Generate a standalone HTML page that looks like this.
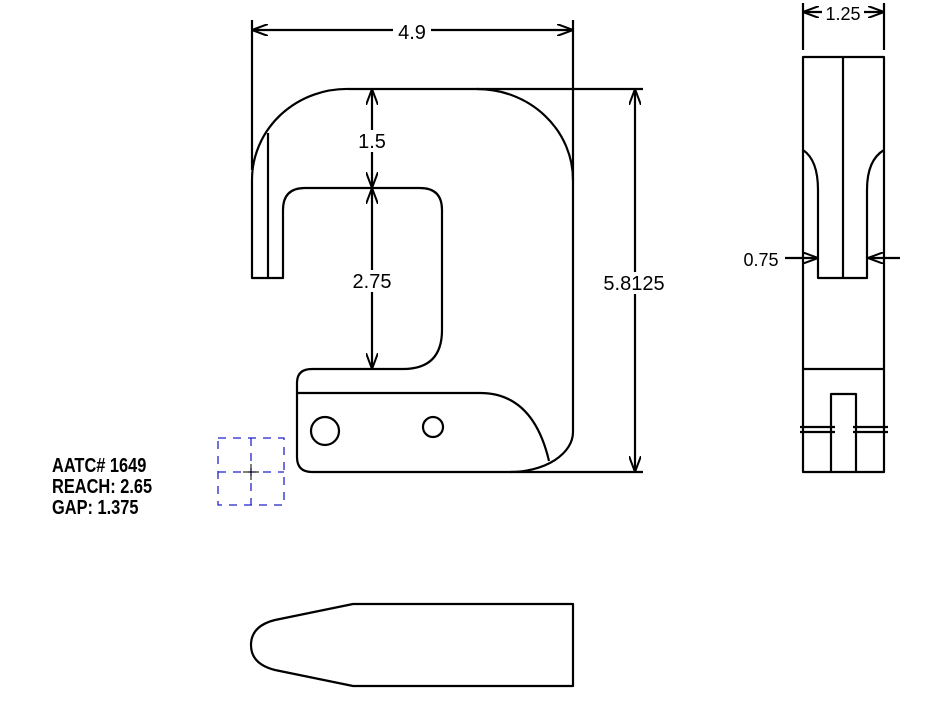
<!DOCTYPE html>
<html><head><meta charset="utf-8"><style>
html,body{margin:0;padding:0;background:#fff;}
svg{display:block;}
text{font-family:"Liberation Sans",sans-serif;fill:#000;}
</style></head><body>
<svg width="934" height="727" viewBox="0 0 934 727" xmlns="http://www.w3.org/2000/svg">
<defs>
<marker id="a" viewBox="0 0 16 12" refX="16" refY="6" markerWidth="16" markerHeight="12" markerUnits="userSpaceOnUse" orient="auto-start-reverse">
<path d="M0,0 L16,6 L0,12" fill="none" stroke="#000" stroke-width="2"/>
</marker>
</defs>
<g fill="none" stroke="#000" stroke-width="2.2" stroke-linejoin="round">
<path d="M252,278 L252,180 A95,91 0 0 1 350,89 L477,89 A96,91 0 0 1 573,180 L573,432 A63,40 0 0 1 510,472 L312,472 Q297,472 297,457 L297,383 Q297,369 312,369 L403,369 Q442,369 442,330 L442,210 Q442,188 420,188 L305,188 Q283,188 283,210 L283,278 Z"/>
<line x1="268" y1="133" x2="268" y2="278"/>
<path d="M297,393 L480,393 Q533,393 549,461"/>
<circle cx="325" cy="431" r="14"/>
<circle cx="433" cy="427" r="10"/>
<line x1="252" y1="20" x2="252" y2="170"/>
<line x1="573" y1="20" x2="573" y2="180"/>
<line x1="252" y1="30" x2="573" y2="30" marker-start="url(#a)" marker-end="url(#a)"/>
<line x1="372" y1="89" x2="372" y2="188" marker-start="url(#a)" marker-end="url(#a)"/>
<line x1="372" y1="188" x2="372" y2="369" marker-start="url(#a)" marker-end="url(#a)"/>
<line x1="477" y1="89" x2="643" y2="89"/>
<line x1="510" y1="472" x2="643" y2="472"/>
<line x1="635" y1="89" x2="635" y2="472" marker-start="url(#a)" marker-end="url(#a)"/>
<rect x="803" y="57" width="81" height="415"/>
<line x1="843" y1="57" x2="843" y2="278"/>
<path d="M803,150 Q818,160 818,190 L818,278 L867,278 L867,190 Q867,160 884,150"/>
<line x1="803" y1="369" x2="884" y2="369"/>
<path d="M831,472 L831,394 L856,394 L856,472"/>
<line x1="800" y1="427" x2="835" y2="427"/><line x1="800" y1="432" x2="835" y2="432"/>
<line x1="853" y1="427" x2="888" y2="427"/><line x1="853" y1="432" x2="888" y2="432"/>
<line x1="803" y1="3" x2="803" y2="50"/><line x1="884" y1="3" x2="884" y2="50"/>
<line x1="803" y1="12" x2="822" y2="12" marker-start="url(#a)"/>
<line x1="864" y1="12" x2="884" y2="12" marker-end="url(#a)"/>
<line x1="785" y1="258" x2="818" y2="258" marker-end="url(#a)"/>
<line x1="900" y1="258" x2="868" y2="258" marker-end="url(#a)"/>
<path d="M353,604 L573,604 L573,686 L353,686 L275,670 Q251,664 251,645 Q251,626 275,620 Z"/>
</g>
<rect x="393" y="22" width="38" height="18" fill="#fff"/>
<text x="412" y="39" font-size="20" text-anchor="middle">4.9</text>
<rect x="355" y="130" width="34" height="22" fill="#fff"/>
<text x="372" y="148" font-size="20" text-anchor="middle">1.5</text>
<rect x="348" y="270" width="48" height="22" fill="#fff"/>
<text x="372" y="288" font-size="20" text-anchor="middle">2.75</text>
<rect x="600" y="272" width="70" height="22" fill="#fff"/>
<text x="634" y="290" font-size="20" text-anchor="middle">5.8125</text>
<text x="843" y="20" font-size="18" text-anchor="middle">1.25</text>
<text x="761" y="266" font-size="18" text-anchor="middle">0.75</text>
<g font-weight="bold" font-size="20">
<text x="52" y="472" transform="translate(52,0) scale(0.82,1) translate(-52,0)">AATC# 1649</text>
<text x="52" y="493" transform="translate(52,0) scale(0.82,1) translate(-52,0)">REACH: 2.65</text>
<text x="52" y="514" transform="translate(52,0) scale(0.82,1) translate(-52,0)">GAP: 1.375</text>
</g>
<g stroke="#2222cc" stroke-width="1.3" stroke-dasharray="8,7" fill="none">
<rect x="218" y="438" width="66" height="67"/>
<line x1="251" y1="438" x2="251" y2="505"/>
<line x1="218" y1="472" x2="284" y2="472"/>
</g>
<g stroke="#000" stroke-width="1"><line x1="243" y1="472" x2="259" y2="472"/><line x1="251" y1="464" x2="251" y2="480"/></g>
</svg>
</body></html>
